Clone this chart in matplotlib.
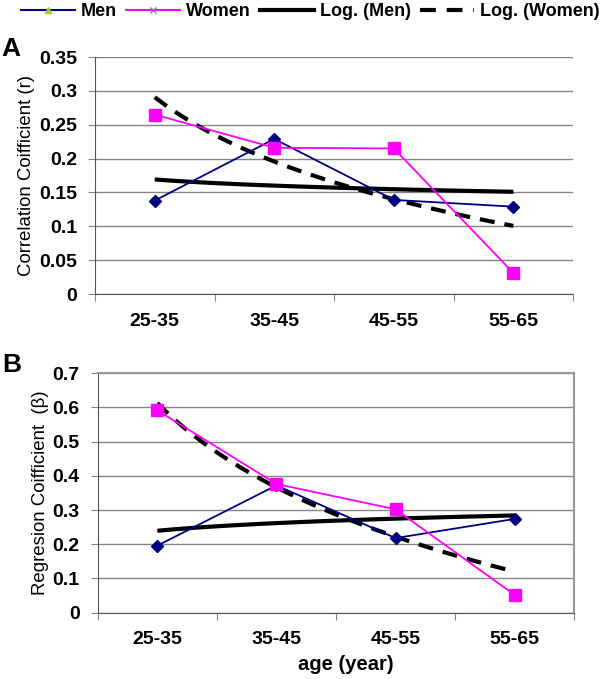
import matplotlib
matplotlib.use("Agg")
import matplotlib.pyplot as plt
import numpy as np
from matplotlib.lines import Line2D

# data
age_groups = ["25-35", "35-45", "45-55", "55-65"]
men_r = [0.138, 0.229, 0.139, 0.129]
women_r = [0.265, 0.216, 0.215, 0.031]
men_beta = [0.196, 0.372, 0.218, 0.274]
women_beta = [0.591, 0.376, 0.302, 0.052]

plt.rcParams["font.family"] = ["Liberation Sans", "DejaVu Sans"]
plt.rcParams["font.weight"] = "bold"

NAVY = "#000080"
MAGENTA = "#ff00ff"
GRID = "#858585"
TICK_FS = 14


def log_fit(vals):
    # Excel-style logarithmic trendline: y = a*ln(x) + b, x = 1..n
    x = np.arange(1, len(vals) + 1)
    a, b = np.polyfit(np.log(x), vals, 1)
    xs = np.linspace(1, len(vals), 100)
    return xs - 1, a * np.log(xs) + b


def draw_panel(ax, men, women, ymax, step, ylabel, frame):
    pos = np.arange(len(age_groups))
    ax.plot(pos, men, color=NAVY, lw=1.3, marker="D", ms=6, mfc=NAVY, mec=NAVY, zorder=4)
    ax.plot(pos, women, color=MAGENTA, lw=1.3, marker="s", ms=8, mfc=MAGENTA, mec=MAGENTA, zorder=4)
    xs, ys = log_fit(men)
    ax.plot(xs, ys, color="black", lw=3, solid_capstyle="butt", zorder=3)
    xs, ys = log_fit(women)
    ax.plot(xs, ys, color="black", lw=3, ls=(0, (3.6, 2.4)), zorder=3)

    ax.set_xlim(-0.5, len(age_groups) - 0.5)
    ax.set_ylim(0, ymax)
    yt = np.round(np.arange(0, ymax + step / 2, step), 2)
    ax.set_yticks(yt, [f"{v:g}" for v in yt])
    ax.yaxis.grid(True, color=GRID, lw=1.0)
    ax.set_axisbelow(True)

    ax.set_xticks(np.arange(-0.5, len(age_groups)), [""] * (len(age_groups) + 1))
    ax.set_xticks(pos, age_groups, minor=True)
    ax.tick_params(axis="x", which="major", length=5, color=GRID, direction="out")
    ax.tick_params(axis="x", which="minor", length=0, pad=13.5, labelsize=TICK_FS)
    ax.tick_params(axis="y", length=5, color=GRID, pad=8, labelsize=TICK_FS)

    ax.set_ylabel(ylabel, fontsize=13.4, fontweight="normal", labelpad=2.5)
    for side in ["left", "bottom"]:
        ax.spines[side].set_color("#555555")
    for side in ["top", "right"]:
        if frame:
            ax.spines[side].set_color("#999999")
            ax.spines[side].set_linewidth(1.5)
        else:
            ax.spines[side].set_visible(False)


fig = plt.figure(figsize=(6, 6.79), dpi=100)
ax_a = fig.add_axes([0.1583, 0.567, 0.797, 0.349])
ax_b = fig.add_axes([0.163, 0.0976, 0.794, 0.353])

draw_panel(ax_a, men_r, women_r, 0.35, 0.05, "Correlation Coifficient (r)", frame=False)
draw_panel(ax_b, men_beta, women_beta, 0.7, 0.1, "Regresion Coifficient  (\u03b2)", frame=True)
ax_b.set_xlabel("age (year)", fontsize=14.5, fontweight="bold")
ax_b.xaxis.set_label_coords(0.52, -0.175)

fig.text(0.003, 1 - 48.5 / 679, "A", fontsize=19, fontweight="bold", va="center")
fig.text(0.003, 1 - 365 / 679, "B", fontsize=19, fontweight="bold", va="center")

handles = [
    Line2D([], [], color=NAVY, lw=1.5, marker="^", ms=5, mfc="#9acd32", mec="#9acd32"),
    Line2D([], [], color=MAGENTA, lw=1.5, marker="x", ms=4, mec="#9966cc"),
    Line2D([], [], color="black", lw=3),
    Line2D([], [], color="black", lw=3, ls=(0, (3.8, 2.6))),
]
labels = ["Men", "Women", "Log. (Men)", "Log. (Women)"]
fig.legend(handles, labels, loc="center left", bbox_to_anchor=(21 / 600, 1 - 11.5 / 679), ncol=4,
           frameon=False, prop={"size": 13, "weight": "bold"}, handlelength=3.0, handletextpad=0.33,
           columnspacing=0.5, borderaxespad=0, borderpad=0)

fig.savefig("out.png", dpi=100)
